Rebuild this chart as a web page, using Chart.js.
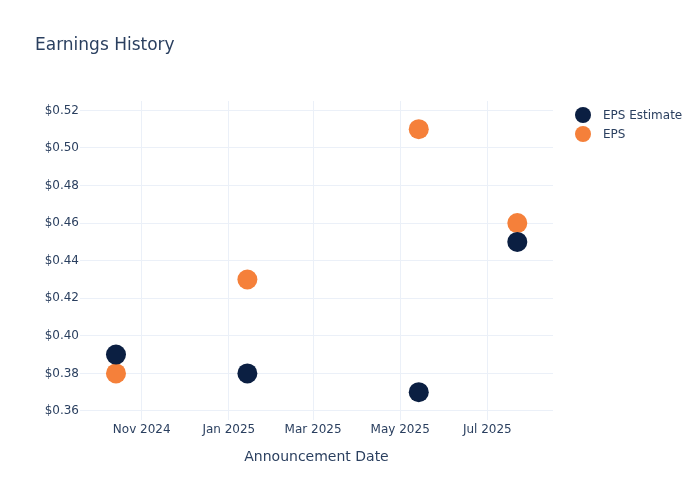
<!DOCTYPE html>
<html>
<head>
<meta charset="utf-8">
<script src="https://cdn.jsdelivr.net/npm/chart.js@4"></script>
<style>
    html, body { margin: 0; padding: 0; background: #fff; }
    #wrap { position: relative; width: 700px; height: 500px; }
</style>
</head>
<body>
<div id="wrap"><canvas id="earningsChart" width="700" height="500"></canvas></div>
<script>
// Earnings history scatter

const announceDates = ["2024-10-14", "2025-01-14", "2025-05-14", "2025-07-22"];
const epsEstimate = [0.39, 0.38, 0.37, 0.45];
const epsActual = [0.38, 0.43, 0.51, 0.46];
const monthTicks = ["2024-11-01", "2025-01-01", "2025-03-01", "2025-05-01", "2025-07-01"];
const priceTicks = [0.36, 0.38, 0.40, 0.42, 0.44, 0.46, 0.48, 0.50, 0.52];
const seriesNames = ["EPS Estimate", "EPS"];

const NAVY = '#0b1f42';
const ORANGE = '#f5803a';
const TEXT = '#2a3f5f';
const GRID = '#ebf0f8';
const FONT = "'DejaVu Sans', Verdana, sans-serif";
const MONTHS = ["Jan", "Feb", "Mar", "Apr", "May", "Jun", "Jul", "Aug", "Sep", "Oct", "Nov", "Dec"];

const toTime = s => Date.parse(s + "T00:00:00Z");

// Title + legend drawn on the canvas (plotly-like placement)
const headerPlugin = {
    id: 'header',
    afterDraw(chart) {
        const ctx = chart.ctx;
        ctx.save();
        ctx.fillStyle = TEXT;
        ctx.textBaseline = 'middle';
        ctx.textAlign = 'left';
        ctx.font = "17px " + FONT;
        ctx.fillText("Earnings History", 35, 46);

        const colors = [NAVY, ORANGE];
        ctx.font = "12px " + FONT;
        seriesNames.forEach((name, i) => {
            const y = 115 + i * 19;
            ctx.beginPath();
            ctx.arc(583, y, 8, 0, Math.PI * 2);
            ctx.fillStyle = colors[i];
            ctx.fill();
            ctx.fillStyle = TEXT;
            ctx.fillText(name, 603, y + 1);
        });
        ctx.restore();
    }
};

const ctx = document.getElementById("earningsChart");
new Chart(ctx, {
    type: 'scatter',
    data: {
        datasets: [
            {
                label: seriesNames[0],
                data: announceDates.map((d, i) => ({ x: toTime(d), y: epsEstimate[i] })),
                backgroundColor: NAVY,
                borderColor: NAVY,
                borderWidth: 0,
                pointRadius: 10,
                pointHoverRadius: 10
            },
            {
                label: seriesNames[1],
                data: announceDates.map((d, i) => ({ x: toTime(d), y: epsActual[i] })),
                backgroundColor: ORANGE,
                borderColor: ORANGE,
                borderWidth: 0,
                pointRadius: 10,
                pointHoverRadius: 10
            }
        ]
    },
    options: {
        responsive: false,
        animation: false,
        layout: { padding: { top: 101, right: 147, bottom: 30, left: 0 } },
        plugins: {
            legend: { display: false },
            title: { display: false },
            tooltip: { enabled: false }
        },
        scales: {
            x: {
                type: 'linear',
                min: toTime("2024-09-18") + 0.8 * 86400000,
                max: toTime("2025-08-16"),
                afterBuildTicks: axis => {
                    axis.ticks = monthTicks.map(d => ({ value: toTime(d) }));
                },
                afterFit: axis => { axis.height = 50; },
                grid: { color: GRID, lineWidth: 1, drawTicks: false },
                border: { display: false },
                ticks: {
                    color: TEXT,
                    padding: 3,
                    maxRotation: 0,
                    autoSkip: false,
                    font: { family: FONT, size: 12 },
                    callback: v => {
                        const d = new Date(v);
                        return MONTHS[d.getUTCMonth()] + " " + d.getUTCFullYear();
                    }
                },
                title: {
                    display: true,
                    text: "Announcement Date",
                    color: TEXT,
                    font: { family: FONT, size: 14 },
                    padding: { top: 0, bottom: 4 }
                }
            },
            y: {
                min: 0.3552,
                max: 0.525,
                afterBuildTicks: axis => {
                    axis.ticks = priceTicks.map(v => ({ value: v }));
                },
                afterFit: axis => { axis.width = 80; },
                grid: { color: GRID, lineWidth: 1, drawTicks: false },
                border: { display: false },
                ticks: {
                    color: TEXT,
                    padding: 1,
                    font: { family: FONT, size: 12 },
                    callback: v => "$" + v.toFixed(2)
                }
            }
        }
    },
    plugins: [headerPlugin]
});
</script>
</body>
</html>
